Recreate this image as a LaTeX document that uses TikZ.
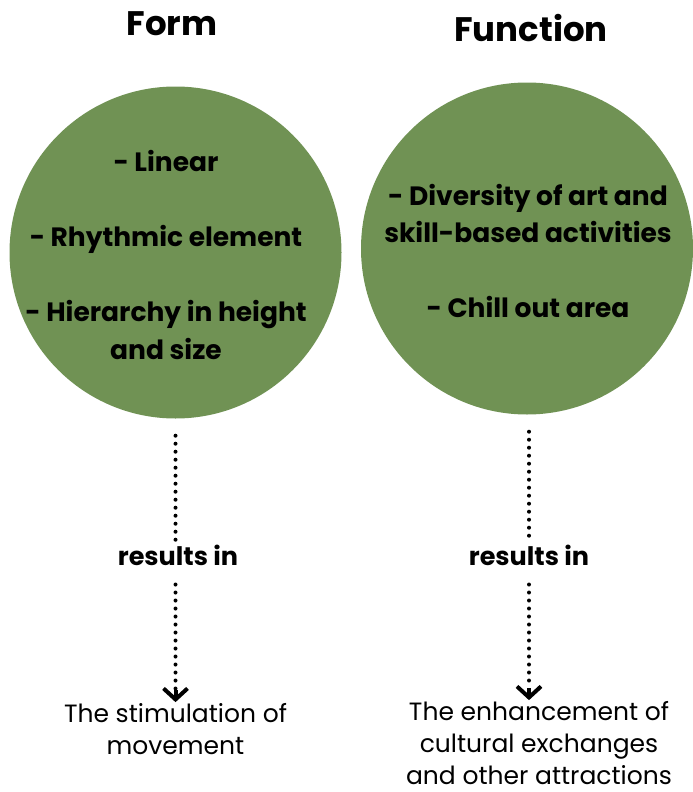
\documentclass[tikz,border=0pt]{standalone}
\usepackage{fontspec}
\setmainfont{Poppins}
\usetikzlibrary{positioning, arrows.meta, calc}
\definecolor{leaf}{RGB}{112,146,84}

\begin{document}
\begin{tikzpicture}[
    x=1pt, y=-1pt,
    blob/.style={circle, fill=leaf, minimum size=332pt, inner sep=0pt},
    btxt/.style={align=center, font=\bfseries\fontsize{26.5}{37.5}\selectfont},
    ttl/.style={font=\bfseries\fontsize{34}{40}\selectfont},
    res/.style={fill=white, inner sep=2pt, font=\bfseries\fontsize{25.5}{30}\selectfont},
    outtxt/.style={align=center, inner sep=1pt, font=\fontsize{25}{32}\selectfont},
    dots/.style={line width=4pt, line cap=round, dash pattern=on 0pt off 8pt},
    chev/.style={-{Straight Barb[length=11pt,width=24pt,line width=4pt]}, line width=4pt}
  ]
\useasboundingbox (0,0) rectangle (693,792);

% =================== titles ===================
\node[ttl] (formttl) at (172,24) {Form};
\node[ttl] (functtl) at (531,28) {Function};

% =================== circles ===================
\node[blob] (formc) at (175.5,252.5) {};
\node[blob] (funcc) at (527,248.5) {};
\node[btxt] (formtxt) at (166,255) {- Linear\\[37.5pt]- Rhythmic element\\[37.5pt]- Hierarchy in height\\and size};
\node[btxt] (functxt) at (528,251) {- Diversity of art and\\skill-based activities\\[37.5pt]- Chill out area};

% =================== results in ===================
\node[res] (formres) at (178,555) {results in};
\node[res] (funcres) at (529,555) {results in};

% =================== outcomes ===================
\node[outtxt] (formout) at (175.5,729) {The stimulation of\\movement};
\node[outtxt] (funcout) at (539,743) {The enhancement of\\cultural exchanges\\and other attractions};
\coordinate (formend) at (formc.south |- formout.north);
\coordinate (funcend) at (funcres.south |- funcout.north);

% dotted connectors, solid chevron tips
\draw[dots, shorten <=17pt, shorten >=12pt] (formc.south |- formres.south) -- (formend);
\draw[dots, shorten <=17pt] (formc.south) -- (formc.south |- formres.north);
\draw[chev] ($(formend)+(0,-12)$) -- (formend);
\draw[dots, shorten <=17pt] (funcres.north |- funcc.south) -- (funcres.north);
\draw[dots, shorten <=17pt, shorten >=12pt] (funcres.south) -- (funcend);
\draw[chev] ($(funcend)+(0,-12)$) -- (funcend);

\end{tikzpicture}
\end{document}
